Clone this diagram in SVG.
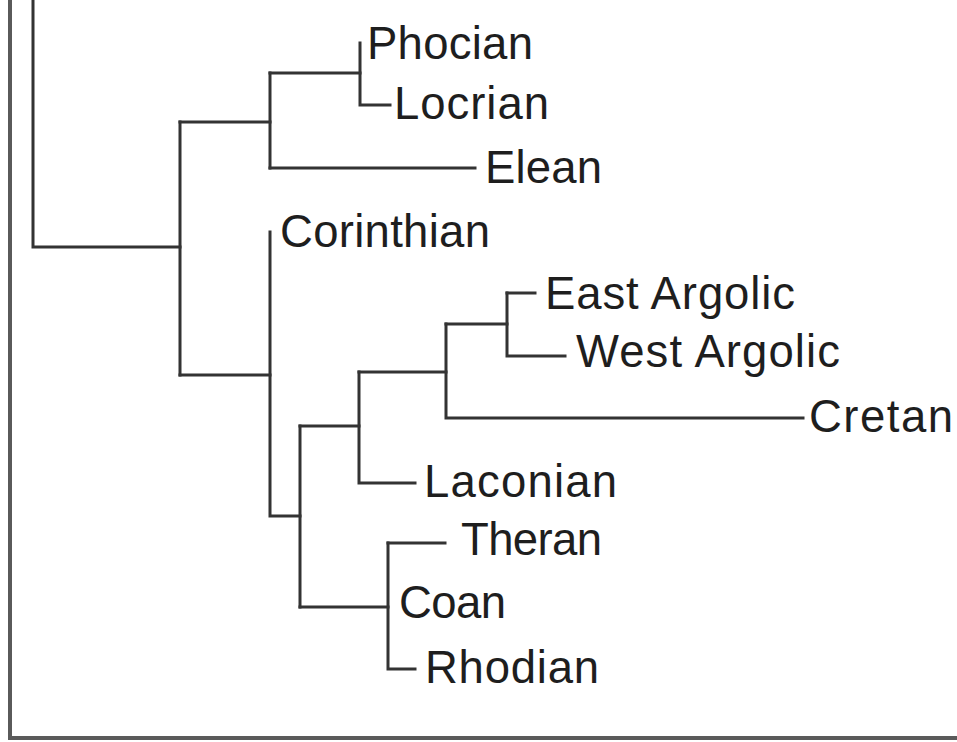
<svg xmlns="http://www.w3.org/2000/svg" width="957" height="742" viewBox="0 0 957 742">
  <style>
    .frame { stroke: #5a5a5a; stroke-width: 4; fill: none; }
    .branch { stroke: #333; stroke-width: 3; fill: none; stroke-linecap: square; }
    .label { font-family: "Liberation Sans", Arial, sans-serif; font-size: 45.5px; fill: #1e1e1e; }
  </style>
  <rect width="957" height="742" fill="#ffffff"/>

  <!-- plot frame: left axis and bottom axis -->
  <path class="frame" d="M10 0 V738 H957"/>

  <!-- dendrogram branches -->
  <g id="connectors" class="branch">
    <path d="M33 0 V247 H180"/>
    <path d="M180 122 V375"/>
    <path d="M180 122 H270"/>
    <path d="M180 375 H270"/>
    <!-- upper clade -->
    <path d="M270 73 V168"/>
    <path d="M270 73 H360"/>
    <path d="M360 43 V105 H390"/>
    <path d="M270 168 H475"/>
    <!-- lower clade -->
    <path d="M270 232 V516 H300"/>
    <path d="M300 426 V607"/>
    <path d="M300 426 H359"/>
    <path d="M359 372 V483 H415"/>
    <path d="M359 372 H446"/>
    <path d="M446 324 V418 H803"/>
    <path d="M446 324 H507"/>
    <path d="M507 293 V356 H565"/>
    <path d="M507 293 H535"/>
    <path d="M300 607 H388"/>
    <path d="M388 543 V669 H415"/>
    <path d="M388 543 H445"/>
  </g>

  <!-- leaf labels -->
  <g id="phocian"><text class="label" x="367" y="59" textLength="166">Phocian</text></g>
  <g id="locrian"><text class="label" x="394" y="119" textLength="155">Locrian</text></g>
  <g id="elean"><text class="label" x="485" y="183" textLength="117">Elean</text></g>
  <g id="corinthian"><text class="label" x="280" y="247" textLength="210">Corinthian</text></g>
  <g id="east-argolic"><text class="label" x="545" y="309" textLength="250">East Argolic</text></g>
  <g id="west-argolic"><text class="label" x="576" y="367" textLength="264">West Argolic</text></g>
  <g id="cretan"><text class="label" x="809" y="432" textLength="144">Cretan</text></g>
  <g id="laconian"><text class="label" x="424" y="497" textLength="193">Laconian</text></g>
  <g id="theran"><text class="label" x="461" y="555" textLength="141">Theran</text></g>
  <g id="coan"><text class="label" x="399" y="618" textLength="107">Coan</text></g>
  <g id="rhodian"><text class="label" x="425" y="683" textLength="174">Rhodian</text></g>
</svg>
